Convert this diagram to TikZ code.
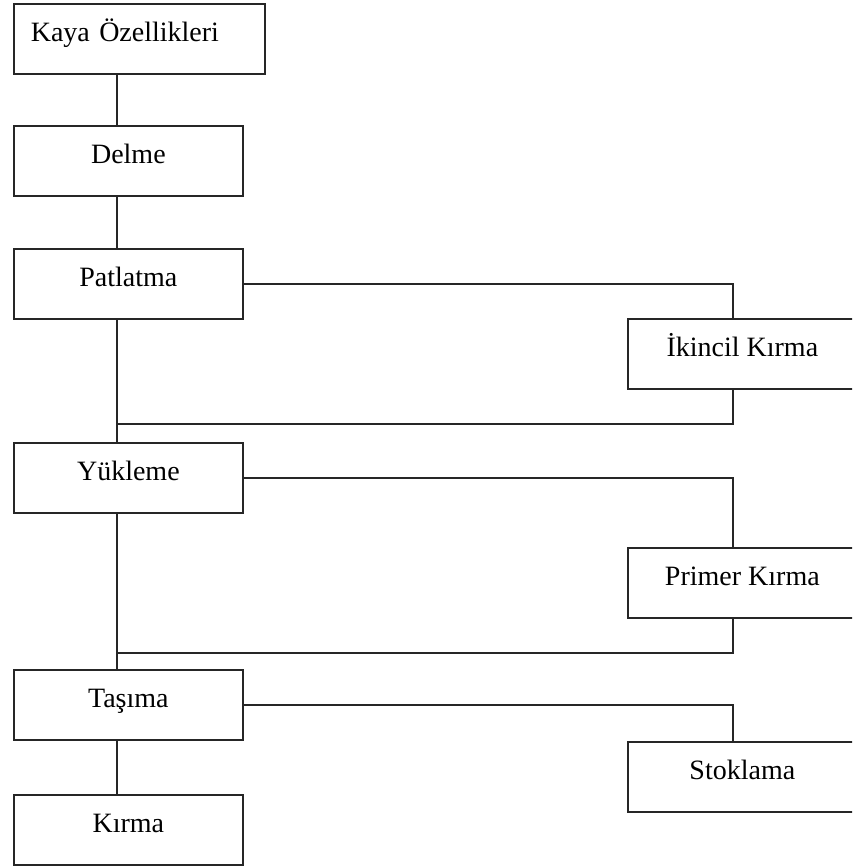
\documentclass[tikz,border=0pt]{standalone}
\usepackage{fontspec}
\setmainfont{Liberation Serif}
\begin{document}
\begin{tikzpicture}[x=1pt,y=-1pt,
  stage/.style={draw=black!85, line width=1.7pt, rectangle, anchor=north west,
    minimum width=229pt, minimum height=70pt, inner sep=0pt,
    font=\fontsize{28}{30}\selectfont, text height=20pt, text depth=14pt},
  link/.style={draw=black!85, line width=1.7pt}]
\useasboundingbox (0,0) rectangle (852,866);
\clip (0,0) rectangle (852,866);
\fill[white] (0,0) rectangle (852,866);

% main column
\node[stage, minimum width=251pt, text width=217pt, inner xsep=17pt, align=left] (kaya) at (13,3) {Kaya Özellikleri};
\node[stage] (delme)    at (13,125) {Delme};
\node[stage] (patlatma) at (13,248) {Patlatma};
\node[stage] (yukleme)  at (13,442) {Yükleme};
\node[stage] (tasima)   at (13,669) {Taşıma};
\node[stage] (kirma)    at (13,794) {Kırma};

% side branches
\node[stage] (ikincil)  at (627,318) {İkincil Kırma};
\node[stage] (primer)   at (627,547) {Primer Kırma};
\node[stage] (stok)     at (627,741) {Stoklama};

% guide lines for the spine and the branches
\coordinate (spine)  at (117,0);
\coordinate (branch) at (733,0);
\coordinate (merge1) at (117,424);
\coordinate (merge2) at (117,653);

% spine
\draw[link] (kaya.south -| spine) -- (delme.north -| spine);
\draw[link] (delme.south -| spine) -- (patlatma.north -| spine);
\draw[link] (patlatma.south -| spine) -- (yukleme.north -| spine);
\draw[link] (yukleme.south -| spine) -- (tasima.north -| spine);
\draw[link] (tasima.south -| spine) -- (kirma.north -| spine);

% secondary crushing loop
\draw[link] (patlatma.east) -| (ikincil.north -| branch);
\draw[link] (ikincil.south -| branch) |- (merge1);

% primary crushing loop
\draw[link] (yukleme.east) -| (primer.north -| branch);
\draw[link] (primer.south -| branch) |- (merge2);

% stockpile
\draw[link] (tasima.east) -| (stok.north -| branch);
\end{tikzpicture}
\end{document}
